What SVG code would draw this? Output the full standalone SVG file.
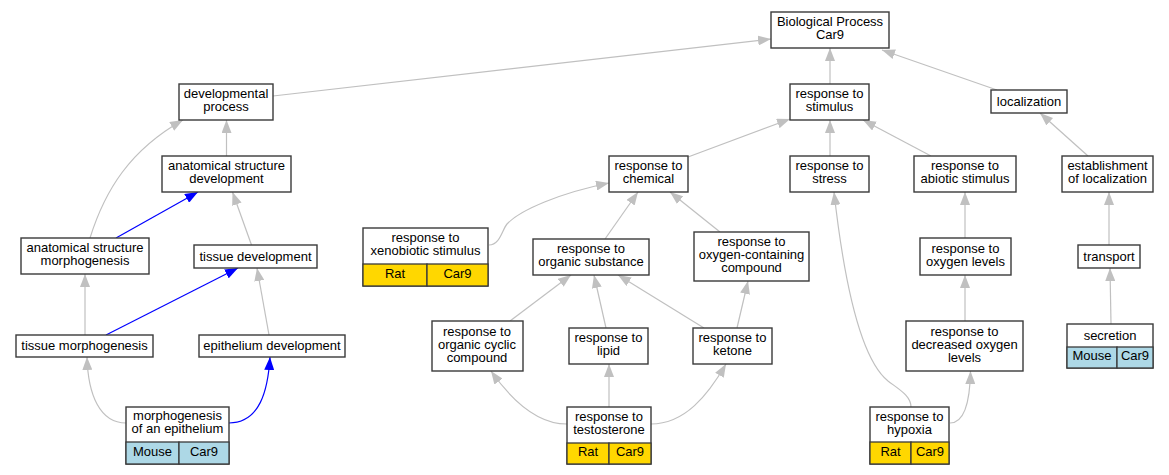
<svg xmlns="http://www.w3.org/2000/svg" width="1169" height="475" viewBox="0 0 1169 475">
<defs>
<marker id="ag" markerUnits="userSpaceOnUse" markerWidth="13" markerHeight="10" refX="13" refY="5" orient="auto"><path d="M0,0 L13,5 L0,10 z" fill="#c0c0c0"/></marker>
<marker id="ab" markerUnits="userSpaceOnUse" markerWidth="13" markerHeight="10" refX="13" refY="5" orient="auto"><path d="M0,0 L13,5 L0,10 z" fill="#0000ff"/></marker>
</defs>
<style>
text{font-family:"Liberation Sans",Arial,sans-serif;font-size:13px;fill:#000;text-anchor:middle}
.n{fill:#fff;stroke:#3a3a3a;stroke-width:1.4}
.rat{fill:#ffd700;stroke:#3a3a3a;stroke-width:1.3}
.mouse{fill:#add8e6;stroke:#3a3a3a;stroke-width:1.3}
.e{fill:none;stroke:#c0c0c0;stroke-width:1.2;marker-end:url(#ag)}
.b{fill:none;stroke:#0000ff;stroke-width:1.2;marker-end:url(#ab)}
</style>
<rect width="1169" height="475" fill="#fff"/>
<g id="edges">
<path class="e" d="M273,96 L771,39"/>
<path class="e" d="M830,84 L830,48"/>
<path class="e" d="M997,90 L882,50"/>
<path class="e" d="M226.5,156 L226.5,120"/>
<path class="e" d="M90,238 C105,190 130,150 183,120"/>
<path class="b" d="M116,238 L198,192"/>
<path class="e" d="M251.5,245 L232.5,192"/>
<path class="e" d="M85,335 L85,274"/>
<path class="b" d="M106,335 L238,268"/>
<path class="e" d="M269,335 L257,268"/>
<path class="e" d="M126,423 C100,423 88,395 87,357"/>
<path class="b" d="M229,423 C260,423 268,390 270,357"/>
<path class="e" d="M688,157 L790,119"/>
<path class="e" d="M830,156 L830,120"/>
<path class="e" d="M931,156 L863,120"/>
<path class="e" d="M1088,156 L1040,113"/>
<path class="e" d="M489,245 C500,245 502,230 507,224 C520,210 560,193 609,183"/>
<path class="e" d="M605,239 L638,192"/>
<path class="e" d="M720,232 L670,192"/>
<path class="e" d="M510,321 L571,275"/>
<path class="e" d="M606,328 L594,275"/>
<path class="e" d="M704,328 L618,275"/>
<path class="e" d="M737,328 L748,281"/>
<path class="e" d="M567,424 C540,424 515,405 491,371"/>
<path class="e" d="M609,407 L609,364"/>
<path class="e" d="M651,424 C685,424 708,395 726,364"/>
<path class="e" d="M911,407 C911,396 900,390 888,381 C862,360 845,290 834,192"/>
<path class="e" d="M950,423 C965,423 970,400 970.5,371"/>
<path class="e" d="M965,321 L965,275"/>
<path class="e" d="M965,238 L965,192"/>
<path class="e" d="M1109,245 L1109,192"/>
<path class="e" d="M1111,324 L1110,268"/>
</g>
<g id="bp"><rect class="n" x="771" y="12" width="118" height="36"/><text x="830" y="26">Biological Process</text><text x="830" y="39">Car9</text></g>
<g id="devproc"><rect class="n" x="179" y="84" width="94" height="36"/><text x="226" y="98">developmental</text><text x="226" y="111">process</text></g>
<g id="asd"><rect class="n" x="162" y="156" width="129" height="36"/><text x="226.5" y="170">anatomical structure</text><text x="226.5" y="183">development</text></g>
<g id="asm"><rect class="n" x="21" y="238" width="128" height="36"/><text x="85" y="252">anatomical structure</text><text x="85" y="265">morphogenesis</text></g>
<g id="tissuedev"><rect class="n" x="194" y="245" width="123" height="23"/><text x="255.5" y="261">tissue development</text></g>
<g id="tissuemorph"><rect class="n" x="16" y="335" width="137" height="22"/><text x="84.5" y="350">tissue morphogenesis</text></g>
<g id="epidev"><rect class="n" x="199" y="335" width="146" height="22"/><text x="272" y="350">epithelium development</text></g>
<g id="morphepi"><rect class="n" x="126" y="407" width="103" height="57"/><rect class="mouse" x="126" y="442" width="53" height="22"/><rect class="mouse" x="179" y="442" width="50" height="22"/><text x="177.5" y="420">morphogenesis</text><text x="177.5" y="433">of an epithelium</text><text x="152.5" y="455.5">Mouse</text><text x="204" y="455.5">Car9</text></g>
<g id="chem"><rect class="n" x="609" y="156" width="79" height="36"/><text x="648.5" y="170">response to</text><text x="648.5" y="183">chemical</text></g>
<g id="xeno"><rect class="n" x="363" y="228" width="125" height="58"/><rect class="rat" x="363" y="264" width="64" height="22"/><rect class="rat" x="427" y="264" width="61" height="22"/><text x="425.5" y="242">response to</text><text x="425.5" y="255">xenobiotic stimulus</text><text x="395" y="277.5">Rat</text><text x="457.5" y="277.5">Car9</text></g>
<g id="orgsub"><rect class="n" x="533" y="239" width="116" height="36"/><text x="591" y="253">response to</text><text x="591" y="266">organic substance</text></g>
<g id="oxycomp"><rect class="n" x="694" y="232" width="115" height="49"/><text x="751.5" y="246">response to</text><text x="751.5" y="259">oxygen-containing</text><text x="751.5" y="272">compound</text></g>
<g id="orgcyc"><rect class="n" x="432" y="321" width="91" height="50"/><text x="477" y="335.5">response to</text><text x="477" y="348.5">organic cyclic</text><text x="477" y="361.5">compound</text></g>
<g id="lipid"><rect class="n" x="569" y="328" width="79" height="36"/><text x="608.5" y="342">response to</text><text x="608.5" y="355">lipid</text></g>
<g id="ketone"><rect class="n" x="693" y="328" width="79" height="36"/><text x="732.5" y="342">response to</text><text x="732.5" y="355">ketone</text></g>
<g id="testo"><rect class="n" x="567" y="407" width="84" height="57"/><rect class="rat" x="567" y="443" width="42" height="21"/><rect class="rat" x="609" y="443" width="42" height="21"/><text x="609" y="420.5">response to</text><text x="609" y="433.5">testosterone</text><text x="588" y="456">Rat</text><text x="630" y="456">Car9</text></g>
<g id="stim"><rect class="n" x="790" y="84" width="79" height="36"/><text x="829.5" y="98">response to</text><text x="829.5" y="111">stimulus</text></g>
<g id="loc"><rect class="n" x="991" y="90" width="76" height="23"/><text x="1029" y="106">localization</text></g>
<g id="stress"><rect class="n" x="790" y="156" width="79" height="36"/><text x="829.5" y="170">response to</text><text x="829.5" y="183">stress</text></g>
<g id="abiotic"><rect class="n" x="914" y="156" width="102" height="36"/><text x="965" y="170">response to</text><text x="965" y="183">abiotic stimulus</text></g>
<g id="estloc"><rect class="n" x="1062" y="156" width="91" height="36"/><text x="1107.5" y="170">establishment</text><text x="1107.5" y="183">of localization</text></g>
<g id="oxylev"><rect class="n" x="920" y="238" width="91" height="37"/><text x="965.5" y="252.5">response to</text><text x="965.5" y="265.5">oxygen levels</text></g>
<g id="transport"><rect class="n" x="1078" y="245" width="62" height="23"/><text x="1109" y="261">transport</text></g>
<g id="decoxy"><rect class="n" x="906" y="321" width="117" height="50"/><text x="964.5" y="335.5">response to</text><text x="964.5" y="348.5">decreased oxygen</text><text x="964.5" y="361.5">levels</text></g>
<g id="secretion"><rect class="n" x="1067" y="324" width="86" height="44"/><rect class="mouse" x="1067" y="347" width="50" height="21"/><rect class="mouse" x="1117" y="347" width="36" height="21"/><text x="1110" y="339.5">secretion</text><text x="1092" y="360">Mouse</text><text x="1135" y="360">Car9</text></g>
<g id="hypoxia"><rect class="n" x="870" y="407" width="79" height="57"/><rect class="rat" x="870" y="442" width="41" height="22"/><rect class="rat" x="911" y="442" width="38" height="22"/><text x="909.5" y="420.5">response to</text><text x="909.5" y="433.5">hypoxia</text><text x="890.5" y="455.5">Rat</text><text x="930" y="455.5">Car9</text></g>
</svg>
